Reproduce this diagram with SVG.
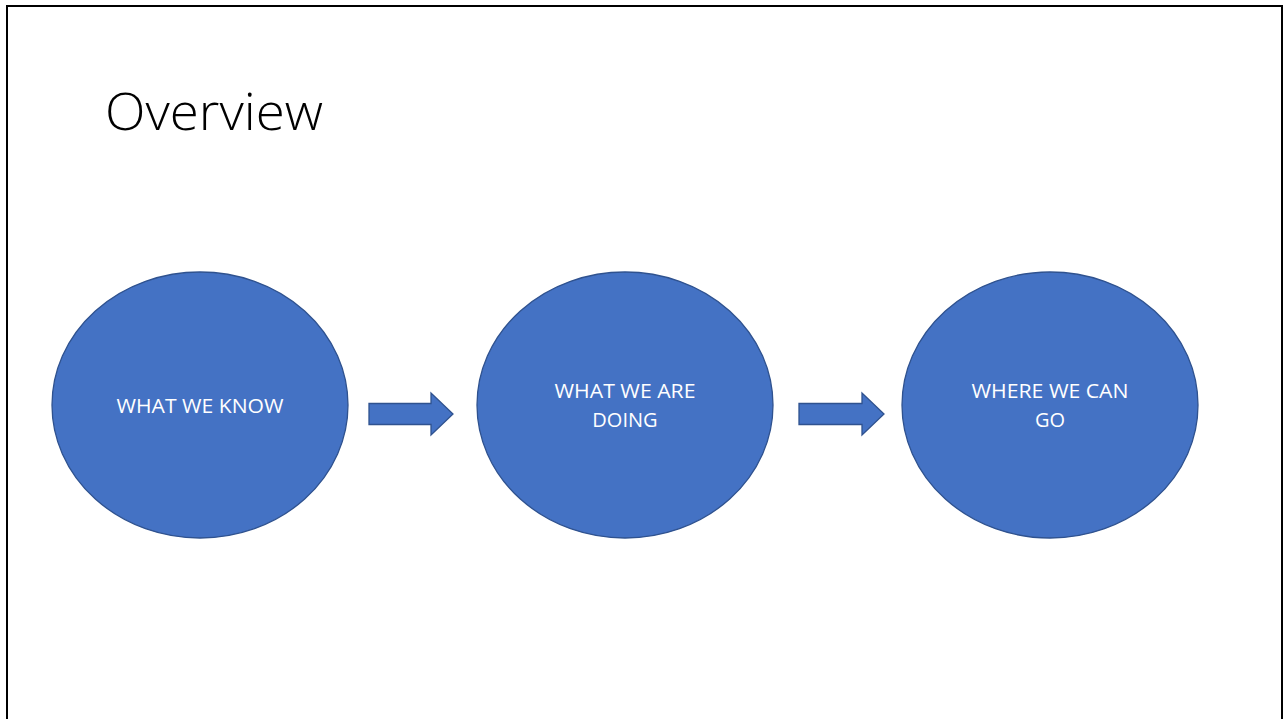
<svg xmlns="http://www.w3.org/2000/svg" width="1284" height="719" viewBox="0 0 1284 719">
<style>
.node{fill:#4472C4;stroke:#2F528F;stroke-width:1.3}
.lbl{font-family:"Open Sans","Liberation Sans",sans-serif;font-size:20px;fill:#FFFFFF;text-anchor:middle}
.arr{fill:#4472C4;stroke:#2F528F;stroke-width:1.3}
</style>
<rect x="0" y="0" width="1284" height="719" fill="#FFFFFF"/>
<g id="frame" fill="none" stroke="#000000" stroke-width="2">
<polyline points="7,719 7,6 1282,6 1282,719"/>
</g>
<g id="title">
<text x="105" y="130" font-family="'Open Sans','Liberation Sans',sans-serif" font-weight="300" font-size="52" fill="#000000" textLength="218" lengthAdjust="spacingAndGlyphs">Overview</text>
</g>
<g id="node1">
<ellipse class="node" cx="200" cy="405" rx="148" ry="133"/>
<text class="lbl" x="200" y="413" textLength="167" lengthAdjust="spacingAndGlyphs">WHAT WE KNOW</text>
</g>
<g id="node2">
<ellipse class="node" cx="625" cy="405" rx="148" ry="133"/>
<text class="lbl" x="625" y="398" textLength="141" lengthAdjust="spacingAndGlyphs">WHAT WE ARE</text>
<text class="lbl" x="625" y="427">DOING</text>
</g>
<g id="node3">
<ellipse class="node" cx="1050" cy="405" rx="148" ry="133"/>
<text class="lbl" x="1050" y="398" textLength="157" lengthAdjust="spacingAndGlyphs">WHERE WE CAN</text>
<text class="lbl" x="1050" y="427">GO</text>
</g>
<g id="connectors">
<polygon class="arr" points="369,403.5 431,403.5 431,393 453,414 431,435 431,424.5 369,424.5"/>
<polygon class="arr" points="799,403.5 862,403.5 862,393 884,414 862,435 862,424.5 799,424.5"/>
</g>
</svg>
